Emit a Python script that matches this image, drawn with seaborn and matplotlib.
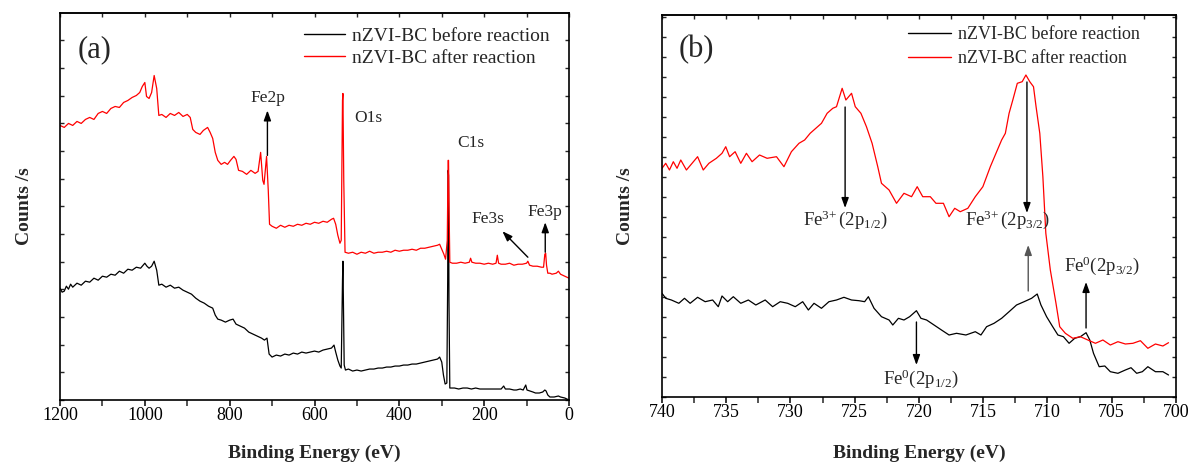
import numpy as np
import pandas as pd
import matplotlib
matplotlib.use("Agg")
import matplotlib.pyplot as plt
from matplotlib.ticker import MultipleLocator
import seaborn as sns

# ---------------- data (arbitrary counts units) -------------
survey_before_E = [1200,1195,1190,1185,1180,1175,1170,1160,1150,1140,1130,1120,1110,1100,1090,1080,1070,1060,1050,1040,
                   1030,1020,1010,1000,995,990,984,978,972,967,960,950,940,930,920,910,900,890,880,870,
                   860,850,840,834,828,820,810,800,792,785,775,765,755,745,735,725,718,712,707,700,
                   690,680,670,660,650,640,630,620,610,600,590,580,570,560,554,550,545,540,537,534,
                   533,532,530,527,520,510,500,490,480,470,460,450,440,430,420,410,400,390,380,370,
                   360,350,340,330,320,310,305,300,296,292,288,286,285,284,283,281,278,270,260,250,
                   240,230,220,210,200,190,180,170,160,154,150,140,130,124,115,108,102,99,92,85,
                   79,70,62,57,54,50,45,35,25,20,10,0]
survey_before_I = [112,108,109,114,111,116,113,117,115,119,118,122,120,124,123,126,125,129,127,131,
                   130,133,132,137,134,132,134,139,130,115,116,113,115,112,113,110,108,106,102,99,
                   97,94,92,85,81,80,78,80,81,76,74,72,68,66,64,62,60,62,46,43,
                   45,44,46,45,47,46,48,47,48,49,48,50,51,52,55,48,40,34,32,120,
                   139,100,35,30,31,29,30,29,30,31,31,32,32,33,33,34,34,35,35,36,
                   36,37,38,39,40,41,43,38,25,16,17,120,230,225,100,12,12,12,11,12,
                   12,11,12,11,11,11,11,11,11,14,11,11,10,10,11,10,15,10,9,8,
                   7,7,8,10,9,5,3,3,4,3,2,0]

survey_after_E = [1200,1190,1180,1170,1160,1150,1140,1130,1120,1110,1100,1090,1080,1070,1060,1050,1040,1030,1020,1012,
                  1006,1000,996,990,984,978,972,967,960,950,940,930,920,910,900,893,887,880,870,862,
                  852,846,840,834,828,820,812,805,798,790,785,779,770,760,750,740,733,727,722,719,
                  716,713,709,706,700,690,680,670,660,650,640,630,620,610,600,590,580,570,560,555,
                  550,545,540,537,534,533,531,528,520,510,500,490,480,470,460,450,440,430,420,410,
                  400,390,380,370,360,350,340,330,320,310,305,300,295,291,287,285,284,283,281,275,
                  265,255,245,235,232,229,220,210,200,190,180,172,169,166,160,150,140,130,120,110,
                  100,97,93,85,75,65,60,57,55,53,50,45,40,30,25,20,10,0]
survey_after_I = [275,273,277,275,279,277,281,283,281,287,289,287,292,294,293,298,300,303,305,308,
                  314,318,304,302,308,325,312,285,286,283,287,285,288,284,286,283,271,268,266,270,
                  273,268,262,248,240,236,238,236,240,244,241,230,229,226,230,227,229,248,220,216,
                  230,244,210,176,174,172,175,173,175,174,176,175,177,176,178,177,179,178,181,182,
                  176,165,157,160,300,307,220,148,147,148,146,148,147,149,147,148,148,149,148,150,
                  149,150,150,151,150,152,152,153,154,155,156,151,146,141,160,240,240,200,138,137,
                  137,138,137,138,142,138,137,137,136,137,136,137,145,137,136,136,137,135,136,136,
                  137,139,135,134,134,133,133,146,147,135,127,127,126,127,129,126,124,122]

fe2p_before_E = [740.00,739.71,739.27,738.69,738.25,737.81,737.23,736.64,736.06,735.62,735.33,734.89,734.45,733.87,733.28,
                 732.70,731.97,731.39,730.80,730.22,729.63,729.05,728.61,728.17,727.59,727.01,726.42,725.84,725.25,724.67,
                 724.23,723.94,723.50,722.92,722.33,722.04,721.60,721.17,720.73,720.20,719.85,719.41,718.83,718.25,717.66,
                 717.08,716.35,715.62,715.18,714.74,714.16,713.57,712.99,712.41,711.82,711.24,710.80,710.51,710.07,709.63,
                 709.19,708.76,708.32,707.88,707.44,707.00,706.71,706.42,705.98,705.54,705.11,704.52,703.94,703.50,703.06,
                 702.62,702.19,701.60,701.02,700.58]
fe2p_before_I = [103.7,98.7,97.0,93.7,98.7,93.7,99.7,95.3,97.0,90.3,101.0,95.3,100.3,93.7,97.0,
                 92.0,97.0,90.3,95.3,93.7,90.3,95.3,87.0,93.7,88.7,95.3,97.0,99.7,97.0,96.3,
                 95.3,100.3,88.7,80.3,77.0,72.0,78.7,77.0,80.3,86.3,78.7,77.0,72.0,67.0,62.0,
                 63.7,62.0,65.3,62.0,70.3,73.7,78.7,85.3,92.0,95.3,98.7,103.0,92.0,80.3,71.0,
                 62.0,60.3,53.7,58.7,60.3,64.3,57.0,43.7,30.3,31.0,25.3,23.7,27.0,29.3,23.7,
                 25.3,30.3,25.3,25.3,22.0]

fe2p_after_E = [740.00,739.71,739.42,739.12,738.83,738.54,738.10,737.66,737.23,736.79,736.35,735.77,735.33,735.04,734.74,
                734.31,733.87,733.43,732.99,732.41,731.82,731.09,730.51,729.93,729.34,728.90,728.47,728.03,727.59,727.15,
                726.71,726.42,725.98,725.69,725.25,724.96,724.52,724.09,723.65,723.21,722.92,722.33,721.75,721.17,720.58,
                720.14,719.71,719.12,718.68,718.10,717.66,717.22,716.79,716.20,715.62,715.03,714.45,714.01,713.57,713.28,
                712.99,712.70,712.35,711.97,711.68,711.38,711.09,710.89,710.60,710.36,710.13,709.78,709.34,709.05,708.61,
                708.03,707.44,706.86,706.27,705.69,705.11,704.52,703.94,703.35,702.77,702.19,701.60,701.02,700.58]
fe2p_after_I = [228.7,233.7,227.0,235.3,228.7,237.0,227.0,233.7,240.3,227.0,233.7,238.7,243.7,250.3,240.3,
                245.3,233.7,243.7,235.3,242.0,238.7,240.3,230.3,245.3,253.7,257.0,263.7,268.7,273.7,283.7,
                288.7,290.3,308.7,297.0,303.7,290.3,283.7,270.3,253.7,230.3,213.7,207.0,193.7,203.7,200.3,
                210.3,200.3,200.3,193.7,193.7,180.3,188.7,185.3,188.7,200.3,210.3,230.3,243.7,257.0,263.7,
                283.7,297.0,313.7,315.3,322.0,315.3,310.3,290.3,263.7,220.3,163.7,127.0,93.7,70.3,63.7,
                58.7,60.3,57.0,53.7,57.0,52.0,55.3,53.0,53.7,56.3,48.7,53.0,51.0,54.3]

series_labels = ["nZVI-BC before reaction", "nZVI-BC after reaction"]
series_colors = ["black", "red"]

# ---------------- style ----------------
sns.set_theme(style="ticks")
plt.rcParams["font.family"] = ["Liberation Serif", "DejaVu Serif"]
plt.rcParams["mathtext.fontset"] = "custom"
plt.rcParams["mathtext.rm"] = "Liberation Serif"
plt.rcParams["mathtext.it"] = "Liberation Serif:italic"
plt.rcParams["mathtext.bf"] = "Liberation Serif:bold"
plt.rcParams["axes.linewidth"] = 1.2

fig = plt.figure(figsize=(11.93, 4.63), dpi=100)
axA = fig.add_axes([60/1193, 1-400/463, 509/1193, 387/463])
axB = fig.add_axes([662/1193, 1-397/463, 514/1193, 382/463])

def style_axes(ax, xmaj, xmin, ymaj, xlim, ylim, xlab_y, ylab_x):
    ax.set_xlim(*xlim)
    ax.set_ylim(*ylim)
    ax.xaxis.set_major_locator(MultipleLocator(xmaj))
    ax.xaxis.set_minor_locator(MultipleLocator(xmin))
    ax.yaxis.set_major_locator(MultipleLocator(ymaj))
    ax.tick_params(axis="x", which="major", direction="out", length=4, width=1.1,
                   labelsize=13, colors="black", pad=1)
    ax.tick_params(axis="x", which="minor", direction="out", length=4, width=1.1)
    ax.tick_params(axis="y", which="major", direction="in", length=3, width=1.0,
                   left=True, right=True, labelleft=False)
    sec = ax.secondary_xaxis("top")
    sec.xaxis.set_major_locator(MultipleLocator(xmin))
    sec.tick_params(axis="x", which="both", direction="in", length=3, width=1.0, labeltop=False)
    for s in ax.spines.values():
        s.set_linewidth(1.2)
        s.set_color("black")
    ax.set_xlabel("Binding Energy (eV)", fontsize=14, fontweight="bold")
    ax.set_ylabel("Counts /s", fontsize=14, fontweight="bold")
    ax.xaxis.set_label_coords(0.5, xlab_y)
    ax.yaxis.set_label_coords(ylab_x, 0.5)

dfa_b = pd.DataFrame({"E": survey_before_E, "I": survey_before_I})
dfa_a = pd.DataFrame({"E": survey_after_E, "I": survey_after_I})
sns.lineplot(data=dfa_b, x="E", y="I", ax=axA, color=series_colors[0], lw=0.9,
             label=series_labels[0], estimator=None)
sns.lineplot(data=dfa_a, x="E", y="I", ax=axA, color=series_colors[1], lw=0.9,
             label=series_labels[1], estimator=None)
style_axes(axA, 200, 100, 27.7, (1200, 0), (0, 387.6), -0.116, -0.054)

dfb_b = pd.DataFrame({"E": fe2p_before_E, "I": fe2p_before_I})
dfb_a = pd.DataFrame({"E": fe2p_after_E, "I": fe2p_after_I})
sns.lineplot(data=dfb_b, x="E", y="I", ax=axB, color=series_colors[0], lw=0.9,
             label=series_labels[0], estimator=None)
sns.lineplot(data=dfb_a, x="E", y="I", ax=axB, color=series_colors[1], lw=0.9,
             label=series_labels[1], estimator=None)
style_axes(axB, 5, 2.5, 20, (740, 700), (0, 382), -0.125, -0.055)

legA = axA.legend(loc="upper right", bbox_to_anchor=(0.997, 1.008), frameon=False,
                  fontsize=14, handlelength=2.1, handletextpad=0.4, labelspacing=0.2)
legB = axB.legend(loc="upper right", bbox_to_anchor=(0.962, 1.014), frameon=False,
                  fontsize=13, handlelength=2.4, handletextpad=0.4, labelspacing=0.4)
for leg in (legA, legB):
    for line in leg.get_lines():
        line.set_linewidth(1.0)

axA.text(0.035, 0.905, "(a)", transform=axA.transAxes, fontsize=22, va="center", ha="left")
axB.text(0.032, 0.91, "(b)", transform=axB.transAxes, fontsize=22, va="center", ha="left")

ap = dict(arrowstyle="-|>,head_length=0.5,head_width=0.18", color="black", lw=1.0,
          shrinkA=0, shrinkB=0)

# panel (a) annotations
axA.annotate("", xy=(711, 290), xytext=(711, 245), arrowprops=ap)
axA.text(711, 302, "Fe2p", ha="center", va="center", fontsize=12.5)
axA.text(507, 282, "O1s", ha="left", va="center", fontsize=12.5)
axA.text(264, 257, "C1s", ha="left", va="center", fontsize=12.5)
axA.annotate("", xy=(157, 169), xytext=(97, 143), arrowprops=ap)
axA.text(191, 181, "Fe3s", ha="center", va="center", fontsize=12.5)
axA.annotate("", xy=(56, 178), xytext=(56, 148), arrowprops=ap)
axA.text(56, 188, "Fe3p", ha="center", va="center", fontsize=12.5)

# panel (b) annotations
axB.annotate("", xy=(725.75, 189), xytext=(725.75, 290), arrowprops=ap)
axB.text(725.7, 177, r"Fe$^{3\!+}$(2p$_{1/2}$)", ha="center", va="center", fontsize=13.5)
axB.annotate("", xy=(711.6, 184), xytext=(711.6, 315), arrowprops=ap)
axB.text(713.1, 177, r"Fe$^{3\!+}$(2p$_{3/2}$)", ha="center", va="center", fontsize=13.5)
axB.annotate("", xy=(720.2, 32), xytext=(720.2, 75), arrowprops=ap)
axB.text(719.85, 18, r"Fe$^{0}$(2p$_{1/2}$)", ha="center", va="center", fontsize=13.5)
axB.annotate("", xy=(707.0, 115), xytext=(707.0, 69), arrowprops=ap)
axB.text(705.8, 131, r"Fe$^{0}$(2p$_{3/2}$)", ha="center", va="center", fontsize=13.5)
ap_g = dict(ap, color="#555555")
axB.annotate("", xy=(711.5, 152), xytext=(711.5, 106), arrowprops=ap_g)

fig.savefig("out.png", dpi=100, facecolor="white")
